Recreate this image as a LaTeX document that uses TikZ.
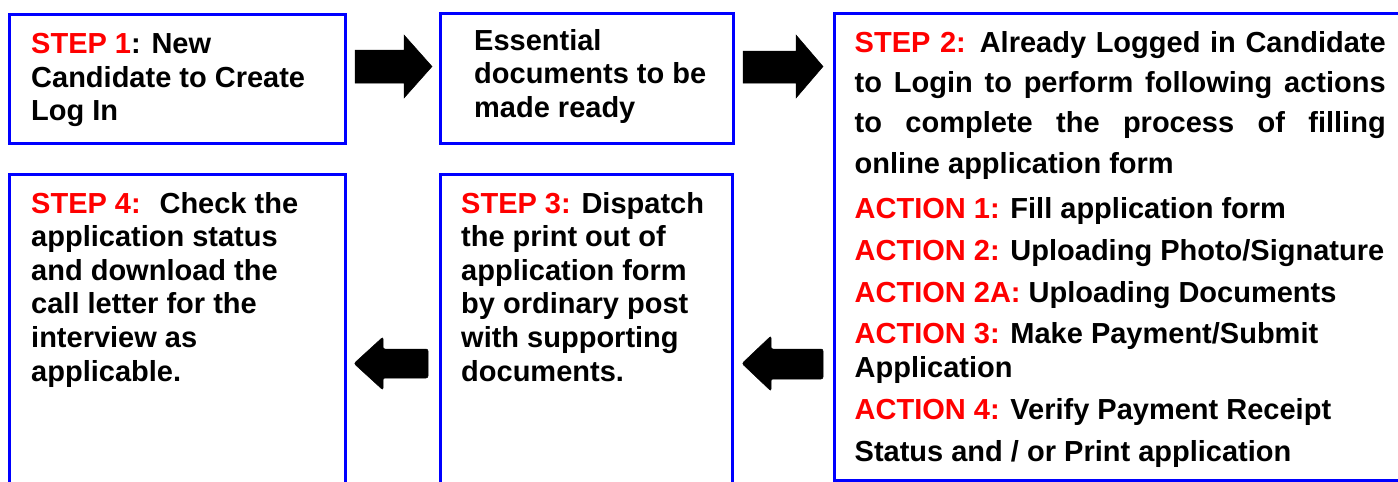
\documentclass[tikz,border=0pt]{standalone}
\usepackage{fontspec}
\setmainfont{Liberation Sans}
\definecolor{rd}{RGB}{255,0,0}
\definecolor{bl}{RGB}{0,0,255}
\newcommand\R[1]{{\color{rd}#1}}
\newcommand\J[1]{\makebox[531pt][s]{#1}}
\begin{document}
\begin{tikzpicture}[x=1pt,y=-1pt,
  box/.style={draw=bl,line width=3pt,inner sep=0pt},
  txt/.style={anchor=base west,inner sep=0pt,font=\fontsize{29}{33}\selectfont\bfseries},
  txtr/.style={anchor=base west,inner sep=0pt,font=\fontsize{29}{33}\selectfont\bfseries},
  blk/.style={fill=black,draw=black,line width=0.5pt}]
\clip (0,0) rectangle (1398,482);
\fill[white] (0,0) rectangle (1398,482);
% boxes
\node[box,minimum width=336pt,minimum height=128.5pt] (b1) at (177.5,78.75) {};
\node[box,minimum width=293pt,minimum height=129.5pt] (b2) at (586.5,78.25) {};
\node[box,minimum width=576pt,minimum height=466.5pt] (b3) at (1122,246.75) {};
\node[box,minimum width=336pt,minimum height=325.5pt] (b4) at (177.5,337.25) {};
\node[box,minimum width=292pt,minimum height=325.5pt] (b5) at (586,337.25) {};
% arrows
\path[blk] (355,50) -- (404,50) -- (404,35) -- (432,66.5) -- (404,98) -- (404,83) -- (355,83) -- cycle;
\path[blk] (743,51) -- (796,51) -- (796,35) -- (823,66.5) -- (796,98) -- (796,83) -- (743,83) -- cycle;
\path[blk,rounded corners=2pt] (823,349) -- (771,349) -- (771,336) -- (742,363.5) -- (771,391) -- (771,379) -- (823,379) -- cycle;
\path[blk,rounded corners=2pt] (428,349) -- (383,349) -- (383,337) -- (354,363.5) -- (383,390) -- (383,378) -- (428,378) -- cycle;
% box 1
\node[txt] (t1a) at (31,53) {\R{STEP 1}: New};
\node[txt] (t1b) at (31,87) {Candidate to Create};
\node[txt] (t1c) at (31,120) {Log In};
% box 2
\node[txt] (t2a) at (474,50) {Essential};
\node[txt] (t2b) at (474,83.5) {documents to be};
\node[txt] (t2c) at (474,117) {made ready};
% box 3
\node[txtr] (t3a) at (854.5,52) {\J{\R{STEP 2:} Already Logged in Candidate}};
\node[txtr] (t3b) at (854.5,92) {\J{to Login to perform following actions}};
\node[txtr] (t3c) at (854.5,132) {\J{to complete the process of filling}};
\node[txtr] (t3d) at (854.5,173) {online application form};
\node[txtr] (t3e) at (854.5,218) {\R{ACTION 1:} Fill application form};
\node[txtr] (t3f) at (854.5,260) {\R{ACTION 2:} Uploading Photo/Signature};
\node[txtr] (t3g) at (854.5,302) {\R{ACTION 2A:} Uploading Documents};
\node[txtr] (t3h) at (854.5,343) {\R{ACTION 3:} Make Payment/Submit};
\node[txtr] (t3i) at (854.5,377) {Application};
\node[txtr] (t3j) at (854.5,419) {\R{ACTION 4:} Verify Payment Receipt};
\node[txtr] (t3k) at (854.5,461) {Status and / or Print application};
% box 4
\node[txt] (t4a) at (31,213) {\R{STEP 4:}~ Check the};
\node[txt] (t4b) at (31,246.5) {application status};
\node[txt] (t4c) at (31,280) {and download the};
\node[txt] (t4d) at (31,313.5) {call letter for the};
\node[txt] (t4e) at (31,347) {interview as};
\node[txt] (t4f) at (31,381) {applicable.};
% box 5
\node[txt] (t5a) at (461,213) {\R{STEP 3:} Dispatch};
\node[txt] (t5b) at (461,246.5) {the print out of};
\node[txt] (t5c) at (461,280) {application form};
\node[txt] (t5d) at (461,313.5) {by ordinary post};
\node[txt] (t5e) at (461,347) {with supporting};
\node[txt] (t5f) at (461,381) {documents.};
\end{tikzpicture}
\end{document}
